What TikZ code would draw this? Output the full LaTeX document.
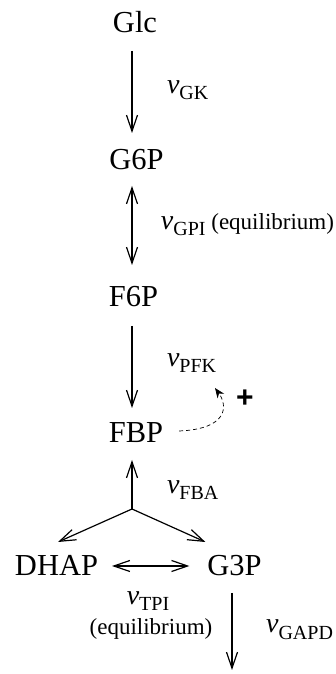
\documentclass[tikz,border=0pt]{standalone}
\usepackage{fontspec}
\setmainfont{Liberation Serif}
\newfontfamily\plusfont{Liberation Sans}
\usetikzlibrary{arrows.meta}
\newcommand\vrate[1]{{\fontsize{28}{28}\selectfont\itshape v}\raisebox{-6pt}{\fontsize{20}{20}\selectfont #1}}
\begin{document}
\begin{tikzpicture}[x=1pt,y=1pt,
  met/.style={anchor=base, inner sep=0pt, outer sep=0pt, text height=20pt, text depth=0pt, font=\fontsize{30.5}{30}\selectfont},
  rate/.style={inner sep=0pt, outer sep=0pt},
  arr/.style={line width=1.2pt, -{Straight Barb[length=16pt,width=11pt]}},
  darr/.style={line width=1.2pt, {Straight Barb[length=16pt,width=11pt]}-{Straight Barb[length=16pt,width=11pt]}},
  act/.style={line width=0.7pt, dash pattern=on 4pt off 3pt, -{Stealth[length=10pt,width=8pt]}},
  eqtext/.style={font=\fontsize{23}{23}\selectfont}
]
\useasboundingbox (0,0) rectangle (335,674);

% metabolites
\node[met] (glc)  at (135,641)   {Glc};
\node[met] (g6p)  at (136.5,504) {G6P};
\node[met] (f6p)  at (133.5,367) {F6P};
\node[met] (fbp)  at (136,231)   {FBP};
\node[met] (dhap) at (56.5,98)   {DHAP};
\node[met] (g3p)  at (234.5,98)  {G3P};

% rate labels
\node[rate, anchor=base west] (lgk)  at (167,580) {\vrate{GK}};
\node[rate, anchor=base east] (lgpi) at (334,444) {\vrate{GPI}{\fontsize{23}{23}\selectfont\ (equilibrium)}};
\node[rate, anchor=base west] (lpfk) at (167,307) {\vrate{PFK}};
\node[rate, anchor=base west] (lfba) at (167,180) {\vrate{FBA}};
\node[rate, anchor=base] (ltpi) at (148,69) {\vrate{TPI}};
\node[rate, anchor=base, eqtext] (leq) at (151,39) {(equilibrium)};
\node[rate, anchor=base east] (lgapd) at (333,41) {\vrate{GAPD}};
\node[rate, font=\plusfont\bfseries\fontsize{30}{30}\selectfont] (plus) at (245,275) {+};

% reactions
\draw[arr]  ([xshift=-3pt,yshift=-18pt]glc.south) -- ([xshift=-4.5pt,yshift=17pt]g6p.north);
\draw[darr] ([xshift=-4.5pt,yshift=-16pt]g6p.south) -- ([xshift=-1.5pt,yshift=22pt]f6p.north);
\draw[arr]  ([xshift=-1.5pt,yshift=-19pt]f6p.south) -- ([xshift=-4pt,yshift=15pt]fbp.north);
\coordinate (junc) at (132,165);
\draw[arr] (junc) -- ([xshift=-4pt,yshift=-17pt]fbp.south);
\draw[arr] (junc) -- ([xshift=1.5pt,yshift=14pt]dhap.north);
\draw[arr] (junc) -- ([xshift=-2pt,yshift=14pt]g3p.north west);
\draw[darr] ([xshift=14pt]dhap.east) -- ([xshift=-18pt]g3p.west);
\coordinate (gapdend) at (232,4);
\draw[arr] ([xshift=-2.5pt,yshift=-17pt]g3p.south) -- (gapdend);

% activation
\coordinate (pfkact) at (215,286);
\draw[act] ([xshift=16pt,yshift=2pt]fbp.east) .. controls (228,245) and (228,268) .. (pfkact);
\end{tikzpicture}
\end{document}
